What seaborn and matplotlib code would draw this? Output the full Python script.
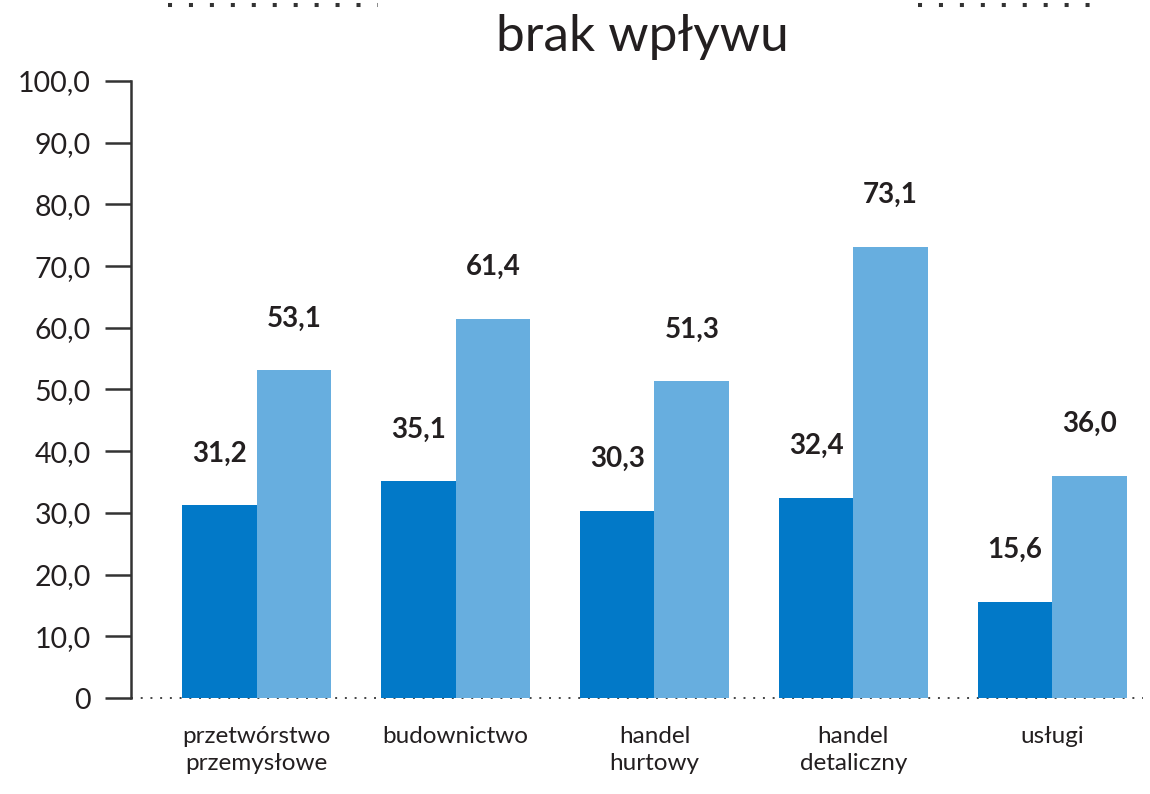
import matplotlib
matplotlib.use("Agg")
import matplotlib.pyplot as plt
import pandas as pd
import seaborn as sns
from matplotlib.lines import Line2D

categories = ["przetwórstwo\nprzemysłowe", "budownictwo", "handel\nhurtowy",
              "handel\ndetaliczny", "usługi"]
series_names = ["seria 1", "seria 2"]
values_dark = [31.2, 35.1, 30.3, 32.4, 15.6]
values_light = [53.1, 61.4, 51.3, 73.1, 36.0]
y_ticks = [0, 10, 20, 30, 40, 50, 60, 70, 80, 90, 100]
title = "brak wpływu"

DARK = "#0279C8"
LIGHT = "#67AEDF"
TEXT = "#231F20"


def fmt(v):
    return f"{v:.1f}".replace(".", ",")


def main():
    df = pd.DataFrame({
        "kategoria": categories * 2,
        "seria": [series_names[0]] * len(categories) + [series_names[1]] * len(categories),
        "wartosc": values_dark + values_light,
    })

    sns.set_theme(style="white")
    plt.rcParams["font.family"] = ["Lato", "DejaVu Sans"]

    fig = plt.figure(figsize=(11.5, 7.94), dpi=100)
    ax = fig.add_axes([0.1139, 0.1209, 0.880, 0.7771])

    sns.barplot(data=df, x="kategoria", y="wartosc", hue="seria",
                palette=[DARK, LIGHT], width=0.75, saturation=1,
                linewidth=0, legend=False, ax=ax)

    # value labels above bars
    for container in ax.containers:
        for bar in container:
            h = bar.get_height()
            ax.annotate(fmt(h), (bar.get_x() + bar.get_width() / 2, h),
                        xytext=(0, 28), textcoords="offset points",
                        ha="center", va="bottom", fontsize=20,
                        fontweight="bold", color=TEXT)

    ax.set_xlim(-0.633, 4.457)
    ax.set_ylim(0, 100)
    ax.set_yticks(y_ticks)
    ax.set_yticklabels(["0" if t == 0 else fmt(t) for t in y_ticks],
                       fontsize=20.5, color=TEXT)
    ax.tick_params(axis="y", direction="out", length=19, width=1.8,
                   color="#333333", pad=10, left=True)
    ax.tick_params(axis="x", length=0, pad=20, labelsize=17.5,
                   labelcolor=TEXT)
    for lbl in ax.get_xticklabels():
        lbl.set_linespacing(1.35)
    ax.set_xlabel("")
    ax.set_ylabel("")

    for side in ["top", "right", "bottom"]:
        ax.spines[side].set_visible(False)
    ax.spines["left"].set_color("#333333")
    ax.spines["left"].set_linewidth(1.8)
    ax.axhline(0, color="#444444", linestyle=(0, (1, 4)), linewidth=1.4,
               zorder=0.5, clip_on=False)

    # title and decorative dotted rules at the top
    fig.text(0.559, 0.953, title, ha="center", va="center",
             fontsize=37, color=TEXT)
    for x0, x1 in [(168, 378), (918, 1105)]:
        fig.add_artist(Line2D([x0 / 1150, x1 / 1150], [1 - 5 / 794] * 2,
                              transform=fig.transFigure, color="#333333",
                              linewidth=2.9, linestyle=(0, (1.0, 4.2))))

    fig.savefig("out.png", dpi=100)
    plt.close(fig)


if __name__ == "__main__":
    main()
